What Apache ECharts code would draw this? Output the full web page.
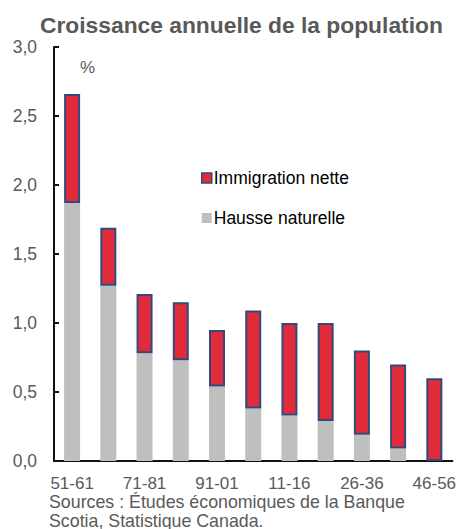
<!DOCTYPE html>
<html>
<head>
<meta charset="utf-8">
<script src="https://cdn.jsdelivr.net/npm/echarts@6/dist/echarts.min.js"></script>
<style>html,body{margin:0;padding:0;background:#fff;}#c{width:459px;height:529px;}</style>
</head>
<body>
<div id="c"></div>
<script>
const categories = ['51-61','61-71','71-81','81-91','91-01','01-11','11-16','16-26','26-36','36-46','46-56'];
const naturalIncrease = [1.87, 1.27, 0.78, 0.73, 0.54, 0.38, 0.33, 0.29, 0.19, 0.09, 0.00];
const netImmigration = [0.79, 0.42, 0.43, 0.42, 0.41, 0.71, 0.67, 0.71, 0.61, 0.61, 0.60];
const yTicks = [0, 0.5, 1.0, 1.5, 2.0, 2.5, 3.0];

const FONT = 'Liberation Sans, Arial, sans-serif';
const GREY_TEXT = '#595959';
const RED = '#e12b3b';
const NAVY = '#2f4b7c';
const GREY_BAR = '#bfbfbf';

const chart = echarts.init(document.getElementById('c'), null, {renderer: 'svg'});
chart.setOption({
  animation: false,
  backgroundColor: '#fff',
  title: {
    text: 'Croissance annuelle de la population',
    left: 40,
    top: 13,
    padding: 0,
    textStyle: {fontFamily: FONT, fontSize: 22.8, fontWeight: 'bold', color: GREY_TEXT}
  },
  legend: {
    orient: 'vertical',
    left: 201,
    top: 168,
    padding: 0,
    itemWidth: 10,
    itemHeight: 10,
    itemGap: 20,
    icon: 'rect',
    textStyle: {fontFamily: FONT, fontSize: 17.5, color: '#000', lineHeight: 20, padding: [0, 0, 0, -3]},
    data: [
      {name: 'Immigration nette', itemStyle: {color: RED, borderColor: NAVY, borderWidth: 1.5}},
      {name: 'Hausse naturelle', itemStyle: {color: GREY_BAR, borderWidth: 0}}
    ]
  },
  graphic: [
    {type: 'text', left: 80, top: 59, style: {text: '%', fontFamily: FONT, fontSize: 17, fill: GREY_TEXT}},
    {type: 'text', left: 49, top: 492, style: {text: 'Sources : Études économiques de la Banque\nScotia, Statistique Canada.', fontFamily: FONT, fontSize: 17.8, lineHeight: 19, fill: GREY_TEXT}}
  ],
  grid: {left: 54, right: 5, top: 47, bottom: 68, containLabel: false},
  xAxis: {
    type: 'category',
    data: categories,
    axisLine: {lineStyle: {color: '#111', width: 2}},
    axisTick: {show: false},
    axisLabel: {interval: 1, margin: 14, lineHeight: 16, fontFamily: FONT, fontSize: 17, color: GREY_TEXT}
  },
  yAxis: {
    type: 'value',
    min: yTicks[0],
    max: yTicks[yTicks.length - 1],
    interval: 0.5,
    splitLine: {show: false},
    axisLine: {show: true, lineStyle: {color: '#111', width: 2}},
    axisTick: {show: true, inside: true, length: 5, lineStyle: {color: '#111', width: 2}},
    axisLabel: {margin: 17, fontFamily: FONT, fontSize: 17.5, color: GREY_TEXT,
      formatter: v => v.toFixed(1).replace('.', ',')}
  },
  series: [
    {
      name: 'Hausse naturelle',
      type: 'bar',
      stack: 'pop',
      barWidth: 16,
      data: naturalIncrease,
      itemStyle: {color: GREY_BAR}
    },
    {
      name: 'Immigration nette',
      type: 'bar',
      stack: 'pop',
      barWidth: 16,
      data: netImmigration,
      itemStyle: {color: RED, borderColor: NAVY, borderWidth: 2}
    }
  ]
});
</script>
</body>
</html>
